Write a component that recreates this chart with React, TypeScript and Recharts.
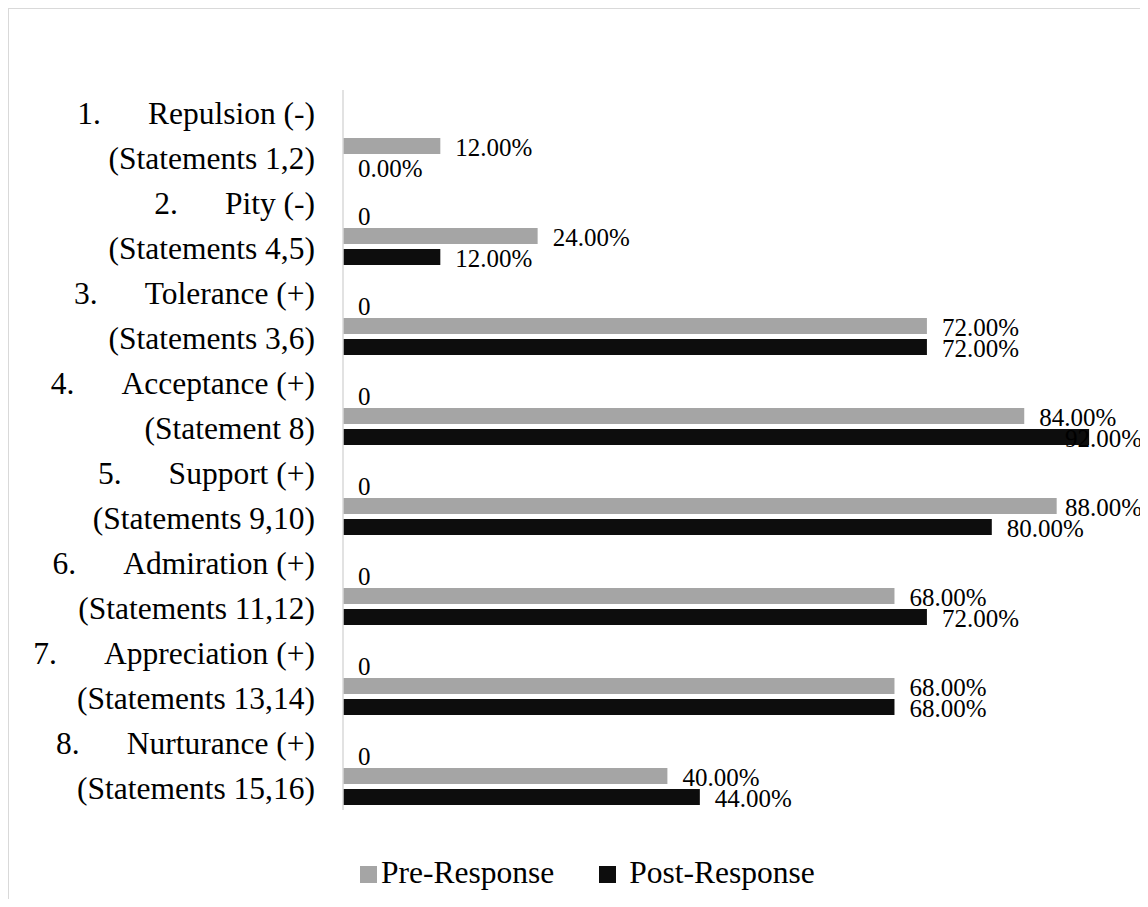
import React from 'react';
import { BarChart, Bar, XAxis, YAxis, Legend, LabelList } from 'recharts';

const FONT = "'Liberation Serif', 'Times New Roman', serif";

const categories = [
  'Repulsion (-)',
  'Pity (-)',
  'Tolerance (+)',
  'Acceptance (+)',
  'Support (+)',
  'Admiration (+)',
  'Appreciation (+)',
  'Nurturance (+)',
];
const statements = [
  '(Statements 1,2)',
  '(Statements 4,5)',
  '(Statements 3,6)',
  '(Statement 8)',
  '(Statements 9,10)',
  '(Statements 11,12)',
  '(Statements 13,14)',
  '(Statements 15,16)',
];

// percentages of respondents
const preResponse = [12, 24, 72, 84, 88, 68, 68, 40];
const postResponse = [0, 12, 72, 92, 80, 72, 68, 44];
// leftover third series from the sheet, only its "0" labels show
const series3 = [null, 0, 0, 0, 0, 0, 0, 0];
// empty slot that sits above the other bars in each group
const blank = [null, null, null, null, null, null, null, null];

const PRE_COLOR = '#a5a5a5';
const POST_COLOR = '#0d0d0d';
const LABEL_MAX_X = 1056;

const legendItems = [
  { name: 'Pre-Response', color: PRE_COLOR, gap: 4, before: 0 },
  { name: 'Post-Response', color: POST_COLOR, gap: 13, before: 45 },
];

const data = categories.map((name, i) => ({
  name,
  blank: blank[i],
  series3: series3[i],
  pre: preResponse[i],
  post: postResponse[i],
}));

// zero-length bars get a hair of width so their labels still render
const keepZero = (value: unknown) => (value === 0 ? 0.001 : 0);

const CategoryTick = (props: any) => {
  const { x, y, payload, index } = props;
  const i = payload?.index ?? index;
  return (
    <text x={x} y={y} textAnchor="end" fontFamily={FONT} fontSize={31.5} fill="#000">
      <tspan x={x} dy={-11}>{`${i + 1}.`}</tspan>
      <tspan dx={47}>{categories[i]}</tspan>
      <tspan x={x} dy={45}>{statements[i]}</tspan>
    </text>
  );
};

const valueLabel = (format: (v: number) => string) => (props: any) => {
  const { x, y, width, height, value } = props;
  if (value === null || value === undefined) return null;
  const tx = Math.min(Number(x) + Number(width) + 15, LABEL_MAX_X);
  return (
    <text x={tx} y={Number(y) + Number(height) / 2 + 10} fontFamily={FONT} fontSize={25} fill="#000">
      {format(Number(value))}
    </text>
  );
};

const renderLegend = () => (
  <div style={{ fontFamily: FONT, fontSize: 31.5, whiteSpace: 'nowrap', color: '#000', lineHeight: 'normal' }}>
    {legendItems.map((item) => (
      <span key={item.name} style={{ marginLeft: item.before }}>
        <span
          style={{
            display: 'inline-block',
            width: 17,
            height: 17,
            background: item.color,
            marginRight: item.gap,
          }}
        />
        {item.name}
      </span>
    ))}
  </div>
);

export default function App() {
  return (
    <div
      style={{
        width: 1139,
        height: 890,
        borderTop: '1px solid #d9d9d9',
        borderLeft: '1px solid #d9d9d9',
        overflow: 'hidden',
        background: '#fff',
      }}
    >
      <BarChart
        width={1160}
        height={890}
        data={data}
        layout="vertical"
        margin={{ top: 81, right: 15, bottom: 89, left: 0 }}
        barSize={16}
        barGap={5}
      >
        <XAxis type="number" domain={[0, 100]} hide />
        <YAxis
          type="category"
          dataKey="name"
          width={334}
          axisLine={{ stroke: '#d9d9d9', strokeWidth: 1.5 }}
          tickLine={false}
          tickSize={0}
          tickMargin={28}
          tick={<CategoryTick />}
          interval={0}
        />
        <Legend
          layout="horizontal"
          verticalAlign="middle"
          align="center"
          wrapperStyle={{ top: 846, left: 351, width: 'auto' }}
          content={renderLegend}
        />
        <Bar dataKey="blank" fill="transparent" legendType="none" isAnimationActive={false} />
        <Bar
          dataKey="series3"
          fill="transparent"
          legendType="none"
          minPointSize={keepZero}
          isAnimationActive={false}
        >
          <LabelList dataKey="series3" content={valueLabel((v) => String(v))} />
        </Bar>
        <Bar dataKey="pre" name="Pre-Response" fill={PRE_COLOR} isAnimationActive={false}>
          <LabelList dataKey="pre" content={valueLabel((v) => `${v.toFixed(2)}%`)} />
        </Bar>
        <Bar
          dataKey="post"
          name="Post-Response"
          fill={POST_COLOR}
          minPointSize={keepZero}
          isAnimationActive={false}
        >
          <LabelList dataKey="post" content={valueLabel((v) => `${v.toFixed(2)}%`)} />
        </Bar>
      </BarChart>
    </div>
  );
}
